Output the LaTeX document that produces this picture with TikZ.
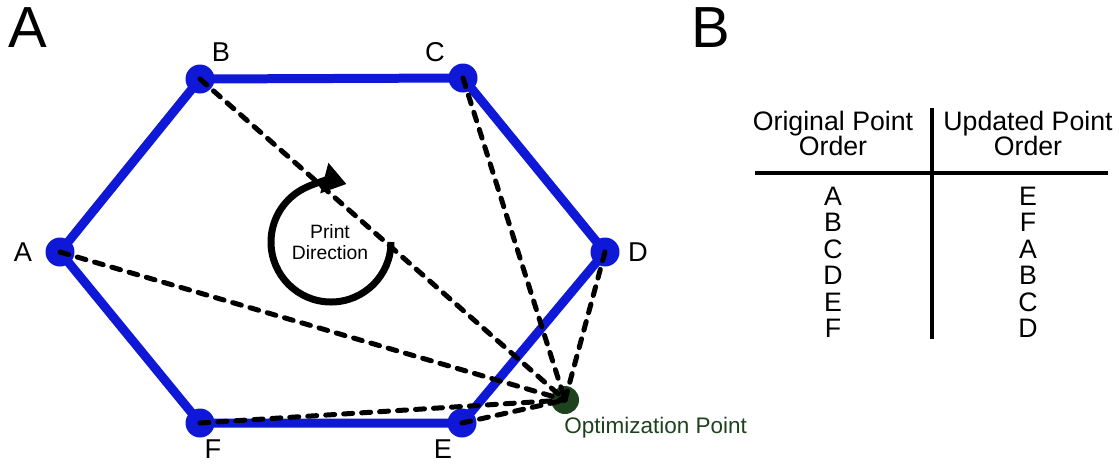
\documentclass[tikz,border=0pt]{standalone}
\usepackage{fontspec}
\setmainfont{Liberation Sans}
\usetikzlibrary{arrows.meta}
\definecolor{hexblue}{RGB}{14,24,214}
\definecolor{optgreen}{RGB}{30,66,30}

\begin{document}
\begin{tikzpicture}[x=0.02cm,y=-0.02cm,
  vertex/.style={circle, fill=hexblue, inner sep=0pt, minimum size=0.58cm},
  vlabel/.style={inner sep=0pt, font=\fontsize{15.5}{17}\selectfont},
  panel/.style={inner sep=0pt, font=\fontsize{33}{36}\selectfont},
  cell/.style={inner sep=0pt, anchor=base, font=\fontsize{15.2}{17}\selectfont},
  hexedge/.style={draw=hexblue, line width=0.18cm, line join=round},
  dashline/.style={line width=0.1cm, line cap=round, dash pattern=on 0.18cm off 0.18cm}]
\useasboundingbox (0,0) rectangle (1119,464);

% panel A
\node[panel] (panelA) at (28,28) {A};

\node[vertex] (A) at (60,252) {};
\node[vertex] (B) at (200,79) {};
\node[vertex] (C) at (463,78) {};
\node[vertex] (D) at (605,252) {};
\node[vertex] (E) at (462,423) {};
\node[vertex] (F) at (200,423) {};

\node[vlabel] (labA) at (23,252) {A};
\node[vlabel] (labB) at (221,52) {B};
\node[vlabel] (labC) at (435,52) {C};
\node[vlabel] (labD) at (638,252) {D};
\node[vlabel] (labE) at (443,449) {E};
\node[vlabel] (labF) at (213,449) {F};

\draw[hexedge] (A.center) -- (B.center) -- (C.center) -- (D.center) -- (E.center) -- (F.center) -- cycle;

\node[circle, fill=optgreen, inner sep=0pt, minimum size=0.56cm] (opt) at (565,400) {};
\node[inner sep=0pt, anchor=base west, text=optgreen, font=\fontsize{12.8}{14}\selectfont] (optlabel) at (564,433) {Optimization Point};

\foreach \v in {A,B,C,D,E,F}
  \draw[dashline] (\v.center) -- (opt.center);

% print direction
\node[inner sep=0pt, align=center, font=\fontsize{11}{12}\selectfont] (print) at (330,242) {Print\\Direction};
\draw[line width=0.14cm, -{Triangle[length=0.46cm,width=0.6cm]}] (391,242) arc[start angle=0, end angle=285, radius=60];

% panel B
\node[panel] (panelB) at (711,28) {B};

\node[cell] (head1a) at (833,130.5) {Original Point};
\node[cell] (head1b) at (833,155.5) {Order};
\node[cell] (head2a) at (1028,130.5) {Updated Point};
\node[cell] (head2b) at (1028,155.5) {Order};

\foreach \orig/\upd [count=\i from 0] in {A/E,B/F,C/A,D/B,E/C,F/D} {
  \node[cell] (orig\i) at (833,205.5+26.4*\i) {\orig};
  \node[cell] (upd\i) at (1028,205.5+26.4*\i) {\upd};
}

\coordinate (hl) at (755,173);
\coordinate (hr) at (1108,173);
\coordinate (vt) at (932,108);
\coordinate (vb) at (932,339);
\draw[line width=0.09cm] (hl) -- (hr);
\draw[line width=0.09cm] (vt) -- (vb);
\end{tikzpicture}
\end{document}
